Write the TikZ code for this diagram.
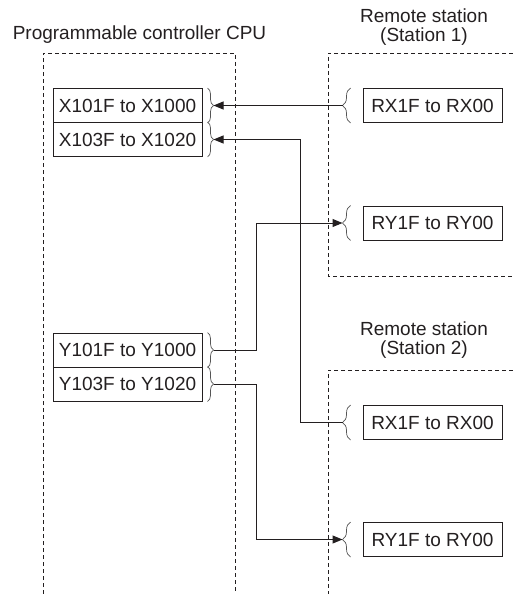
\documentclass[tikz,border=0pt]{standalone}
\usepackage{fontspec}
\setmainfont{Liberation Sans}
\usetikzlibrary{arrows.meta,decorations.pathreplacing,calc}
\definecolor{ink}{RGB}{35,31,32}
\definecolor{bracegray}{RGB}{85,85,85}

\begin{document}
\begin{tikzpicture}[
  x=1pt, y=-1pt,
  every node/.style={text=ink, font=\fontsize{19}{19.5}\selectfont},
  zone/.style={draw=ink, line width=0.9pt, dash pattern=on 4pt off 3pt},
  cpureg/.style={draw=ink, line width=1pt, minimum width=149pt,
    minimum height=34pt, inner sep=0pt},
  remreg/.style={cpureg, minimum width=139pt},
  curly/.style={draw=bracegray, line width=0.7pt, decorate,
    decoration={brace, amplitude=6pt, aspect=0.5}},
  curlyrem/.style={curly, decoration={brace, amplitude=8pt, aspect=0.5}},
  wire/.style={draw=ink, line width=1pt},
  arr/.style={wire, -{Triangle[length=10pt,width=8pt]}},
]
\useasboundingbox (0,0) rectangle (513,594);

\draw[zone] (43,594) -- (43,53) -- (235,53) -- (235,594);
\draw[zone] (513,53) -- (328,53) -- (328,276) -- (513,276);
\draw[zone] (513,370) -- (328,370) -- (328,594);

\node[anchor=base] (cputitle) at (139.5,40) {Programmable controller CPU};
\node[anchor=base, align=center] (st1title) at (424,42) {Remote station\\(Station 1)};
\node[anchor=base, align=center] (st2title) at (424,354.5) {Remote station\\(Station 2)};

\node[cpureg] (x1) at (127.5,105.5) {X101F to X1000};
\node[cpureg] (x2) at (127.5,139.5) {X103F to X1020};
\node[cpureg] (y1) at (127.5,350) {Y101F to Y1000};
\node[cpureg] (y2) at (127.5,384) {Y103F to Y1020};

\node[remreg] (rx1) at (432.5,105.5) {RX1F to RX00};
\node[remreg] (ry1) at (432.5,223) {RY1F to RY00};
\node[remreg] (rx2) at (432.5,422.5) {RX1F to RX00};
\node[remreg] (ry2) at (432.5,539.5) {RY1F to RY00};

\foreach \r in {x1,x2,y1,y2}{
  \draw[curly] ($(\r.north east)+(5,0)$) -- ($(\r.south east)+(5,0)$);
  \coordinate (\r tip) at ($(\r.east)+(11,0)$);
}
\foreach \r in {rx1,ry1,rx2,ry2}{
  \draw[curlyrem] ($(\r.south west)+(-12,0)$) -- ($(\r.north west)+(-12,0)$);
  \coordinate (\r tip) at ($(\r.west)+(-20,0)$);
}

\coordinate (jogx) at (300,0);
\coordinate (jogy) at (256,0);

\draw[arr] (rx1tip) -- (x1tip);
\draw[arr] (rx2tip) -| (jogx |- x2tip) -- (x2tip);
\draw[arr] (y1tip) -| (jogy |- ry1tip) -- (ry1tip);
\draw[arr] (y2tip) -| (jogy |- ry2tip) -- (ry2tip);

\end{tikzpicture}
\end{document}
